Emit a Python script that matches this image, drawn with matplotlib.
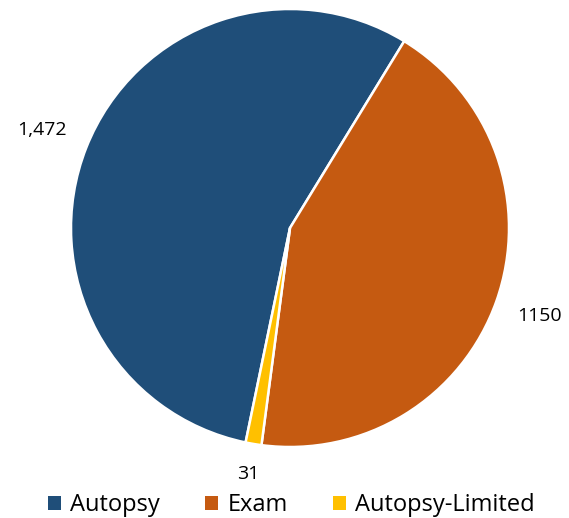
import numpy as np
import matplotlib.pyplot as plt
from matplotlib.patches import Patch

categories = ["Autopsy", "Exam", "Autopsy-Limited"]
counts = [1472, 1150, 31]
value_labels = ["1,472", "1150", "31"]
colors = ["#1F4E79", "#C55A11", "#FFC000"]
label_dist = [1.22, 1.21, 1.14]

plt.rcParams["font.family"] = ["Open Sans", "DejaVu Sans"]

fig = plt.figure(figsize=(5.69, 5.18), dpi=100, facecolor="white")
ax = fig.add_axes([71 / 569, 71 / 518, 438 / 569, 438 / 518])

wedges, texts = ax.pie(
    counts,
    colors=colors,
    labels=value_labels,
    startangle=258.3,
    counterclock=False,
    radius=1,
    wedgeprops=dict(edgecolor="white", linewidth=1.8),
    textprops=dict(fontsize=14, color="#000000"),
)
# place value labels outside the slices, centred
for w, t, d in zip(wedges, texts, label_dist):
    mid = np.deg2rad((w.theta1 + w.theta2) / 2)
    t.set_position((d * np.cos(mid), d * np.sin(mid)))
    t.set_ha("center")
    t.set_va("center")

ax.set_xlim(-1, 1)
ax.set_ylim(-1, 1)
ax.set_aspect("equal")

handles = [Patch(facecolor=c, edgecolor="none") for c in colors]
fig.legend(
    handles,
    categories,
    loc="lower center",
    bbox_to_anchor=(0.512, -0.04),
    ncol=3,
    frameon=False,
    fontsize=17,
    handlelength=0.55,
    handleheight=0.55,
    handletextpad=0.4,
    columnspacing=1.9,
)

fig.savefig("out.png", dpi=100)
